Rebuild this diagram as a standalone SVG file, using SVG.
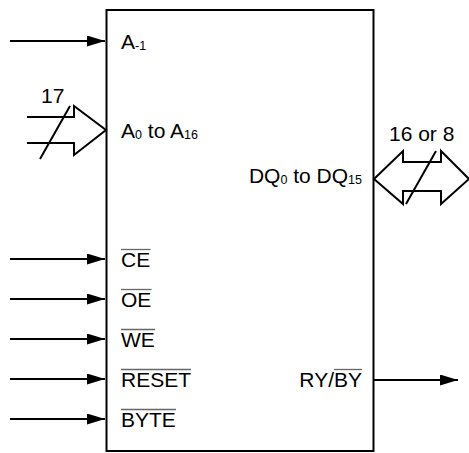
<svg xmlns="http://www.w3.org/2000/svg" width="469" height="453" viewBox="0 0 469 453">
<style>
.t{font-family:"Liberation Sans",Arial,sans-serif;font-size:21px;fill:#000}
.s{font-size:12.5px}
.ov{stroke:#666;stroke-width:1.3}
.w{stroke:#000;stroke-width:2;fill:none}
.h{fill:#000;stroke:none}
</style>
<defs>
<marker id="ah" markerWidth="18" markerHeight="11" refX="18" refY="5.5" orient="auto" markerUnits="userSpaceOnUse">
<path d="M0,0 L18,5.5 L0,11 Z" class="h"/>
</marker>
</defs>
<rect width="469" height="453" fill="#fff"/>
<g id="chip">
<rect x="106.5" y="10" width="267" height="441" class="w" fill="#fff"/>
<text class="t" x="121" y="49">A<tspan class="s" dy="1">-1</tspan></text>
<text class="t" x="121" y="138">A<tspan class="s" dy="1">0</tspan><tspan dy="-1"> to A</tspan><tspan class="s" dy="1">16</tspan></text>
<text class="t" x="362" y="183" text-anchor="end">DQ<tspan class="s" dy="1">0</tspan><tspan dy="-1"> to DQ</tspan><tspan class="s" dy="1">15</tspan></text>
<text class="t" x="121" y="267">CE</text>
<text class="t" x="121" y="307">OE</text>
<text class="t" x="121" y="347">WE</text>
<text class="t" x="121" y="387">RESET</text>
<text class="t" x="121" y="427">BYTE</text>
<text class="t" x="362" y="387" text-anchor="end">RY/BY</text>
<line class="ov" x1="121" y1="249.5" x2="150.5" y2="249.5"/>
<line class="ov" x1="121" y1="289.5" x2="151.5" y2="289.5"/>
<line class="ov" x1="121" y1="329.5" x2="155" y2="329.5"/>
<line class="ov" x1="121" y1="369.5" x2="191" y2="369.5"/>
<line class="ov" x1="121" y1="409.5" x2="176" y2="409.5"/>
<line class="ov" x1="334" y1="369.5" x2="362" y2="369.5"/>
</g>
<g id="connectors">
<line x1="10" y1="41" x2="105" y2="41" class="w" marker-end="url(#ah)"/>
<line x1="10" y1="259" x2="105" y2="259" class="w" marker-end="url(#ah)"/>
<line x1="10" y1="299" x2="105" y2="299" class="w" marker-end="url(#ah)"/>
<line x1="10" y1="339" x2="105" y2="339" class="w" marker-end="url(#ah)"/>
<line x1="10" y1="379" x2="105" y2="379" class="w" marker-end="url(#ah)"/>
<line x1="10" y1="419" x2="105" y2="419" class="w" marker-end="url(#ah)"/>
<line x1="374" y1="380" x2="458" y2="380" class="w" marker-end="url(#ah)"/>
</g>
<g id="addr-bus">
<polyline points="27,117 74,117 74,106 106,130 74,155 74,143 27,143" class="w"/>
<line x1="40" y1="159" x2="70" y2="106" class="w"/>
<text class="t" x="41" y="103">17</text>
</g>
<g id="data-bus">
<polygon points="374,179 403,151 403,162 441,162 441,151 469,179 441,204 441,191 403,191 403,204" class="w"/>
<line x1="406" y1="204" x2="436" y2="151" class="w"/>
<text class="t" x="389" y="141">16 or 8</text>
</g>
</svg>
